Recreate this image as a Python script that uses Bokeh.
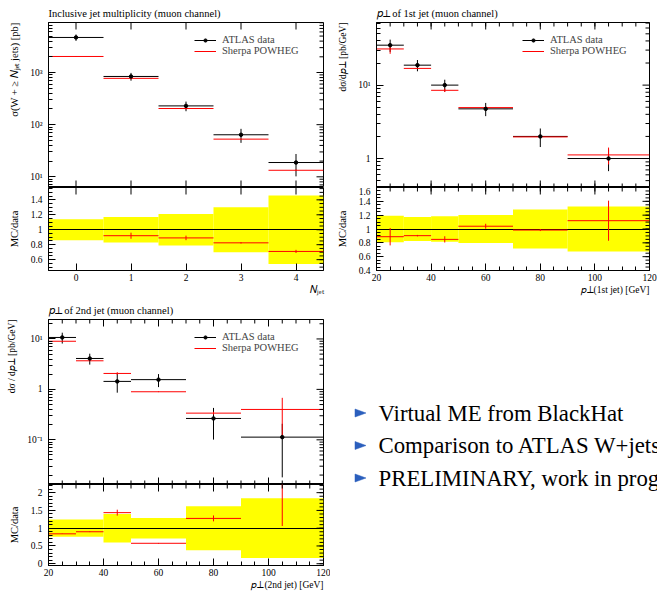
from math import floor, ceil, log10, pi
from bokeh.plotting import figure
from bokeh.layouts import row, column
from bokeh.models import (ColumnDataSource, Range1d, LinearAxis, LogAxis, FixedTicker,
                          CustomJSTickFormatter, Title, Legend, LegendItem)
from bokeh.core.properties import value
from bokeh.embed import file_html
from bokeh.resources import INLINE

SERIF = "Liberation Serif"
RED = "#ff0000"
YELLOW = "#ffff00"
BLUE = "#2b5fbd"

# ---- Inclusive jet multiplicity (muon channel)
njet_edges = [-0.5, 0.5, 1.5, 2.5, 3.5, 4.5]
njet_data = [4700.0, 840.0, 229.0, 64.0, 18.8]
njet_data_err = [660.0, 143.0, 48.0, 19.2, 8.6]
njet_mc = [2030.0, 773.0, 204.0, 52.8, 13.35]
njet_mc_err = [30.0, 34.0, 7.0, 0.6, 0.4]

# ---- pT of 1st jet (muon channel)
pt1_edges = [20, 30, 40, 50, 70, 90, 120]
pt1_data = [35.0, 18.7, 10.0, 4.75, 2.0, 1.0]
pt1_data_err = [6.65, 3.27, 1.85, 0.97, 0.566, 0.327]
pt1_mc = [31.1, 16.9, 8.5, 4.94, 1.97, 1.12]
pt1_mc_err = [4.4, 0.2, 0.45, 0.17, 0.03, 0.29]

# ---- pT of 2nd jet (muon channel)
pt2_edges = [20, 30, 40, 50, 70, 90, 120]
pt2_data = [10.7, 4.1, 1.44, 1.56, 0.265, 0.113]
pt2_data_err = [2.6, 1.0, 0.58, 0.45, 0.164, 0.095]
pt2_mc = [9.0, 3.69, 2.07, 0.897, 0.338, 0.40]
pt2_mc_err = [0.05, 0.04, 0.12, 0.015, 0.022, 0.28]

bullets = ["Virtual ME from BlackHat",
           "Comparison to ATLAS W+jets",
           "PRELIMINARY, work in prog"]

NUM_FMT = CustomJSTickFormatter(code="return String(parseFloat(tick.toFixed(3)));")
POW_FMT = CustomJSTickFormatter(code="""
const e = Math.round(Math.log10(tick));
if (e === 0) { return "1"; }
const sup = {"-": "\u207b", "0": "\u2070", "1": "\u00b9", "2": "\u00b2", "3": "\u00b3",
             "4": "\u2074", "5": "\u2075", "6": "\u2076", "7": "\u2077", "8": "\u2078", "9": "\u2079"};
return "10" + String(e).split("").map(c => sup[c]).join("");
""")


def log_ticks(lo, hi):
    ks = range(floor(log10(lo)), ceil(log10(hi)) + 1)
    majors = [10.0 ** k for k in ks if lo <= 10.0 ** k <= hi]
    minors = [m * 10.0 ** k for k in ks for m in range(2, 10) if lo <= m * 10.0 ** k <= hi]
    return majors, minors


def lin_ticks(lo, hi, major, minor):
    majors = [round(k * major, 6) for k in range(ceil(lo / major - 1e-9), floor(hi / major + 1e-9) + 1)]
    minors = [round(k * minor, 6) for k in range(ceil(lo / minor - 1e-9), floor(hi / minor + 1e-9) + 1)]
    return majors, minors


def add_axis(p, side, ticks, log=False, formatter=None, standoff=4):
    majors, minors = ticks
    ax = (LogAxis if log else LinearAxis)(ticker=FixedTicker(ticks=majors, minor_ticks=minors))
    ax.formatter = formatter
    ax.axis_line_color = "black"
    ax.major_tick_in, ax.major_tick_out = 7, 0
    ax.minor_tick_in, ax.minor_tick_out = 4, 0
    ax.major_tick_line_color = "black"
    ax.minor_tick_line_color = "black"
    ax.axis_label_standoff = 0
    ax.major_label_text_font = SERIF
    ax.major_label_text_font_size = "9.5px"
    ax.major_label_text_color = "black"
    ax.major_label_standoff = standoff
    p.add_layout(ax, side)


def edge_ticks(p, ticks, side):
    """Inward tick marks on a frame edge without labels (half of each dash is clipped away)."""
    majors, minors = ticks
    xr, yr = p.x_range, p.y_range
    for pos, size in ((minors, 8), (majors, 14)):
        n = len(pos)
        if side in ("left", "right"):
            x = xr.start if side == "left" else xr.end
            p.scatter(x=[x] * n, y=pos, marker="dash", size=size, line_color="black", line_width=1)
        else:
            y = yr.start if side == "bottom" else yr.end
            p.scatter(x=pos, y=[y] * n, marker="dash", angle=pi / 2, size=size,
                      line_color="black", line_width=1)


def title(p, side, s, size="10.5px", align="left", valign="bottom", standoff=8, offset=0):
    p.add_layout(Title(text=s, align=align, vertical_align=valign, standoff=standoff, offset=offset,
                       text_font=SERIF, text_font_size=size, text_font_style="normal",
                       text_color="black"), side)


def base_fig(width, height, x_range, y_range, left, right, top, bottom, log=False):
    p = figure(width=width, height=height, x_range=x_range, y_range=y_range, title=None,
               y_axis_type="log" if log else "linear",
               x_axis_location=None, y_axis_location=None,
               output_backend="svg", toolbar_location=None,
               min_border_left=left, min_border_right=right,
               min_border_top=top, min_border_bottom=bottom)
    p.xgrid.visible = False
    p.ygrid.visible = False
    p.outline_line_color = "black"
    p.background_fill_color = "white"
    p.border_fill_color = "white"
    return p


def panel(edges, data, data_err, mc, mc_err, x_rng, y_rng, r_rng, x_ticks, r_ticks,
          left, right, top, r_height, r_bottom, main_title, y_label, x_label, y_label_size):
    lo, hi = edges[:-1], edges[1:]
    mid = [(a + b) / 2 for a, b in zip(lo, hi)]
    src = ColumnDataSource(dict(
        lo=lo, hi=hi, mid=mid, data=data, mc=mc,
        d_lo=[v - e for v, e in zip(data, data_err)], d_hi=[v + e for v, e in zip(data, data_err)],
        m_lo=[v - e for v, e in zip(mc, mc_err)], m_hi=[v + e for v, e in zip(mc, mc_err)],
        ratio=[m / d for m, d in zip(mc, data)],
        r_lo=[(m - e) / d for m, e, d in zip(mc, mc_err, data)],
        r_hi=[(m + e) / d for m, e, d in zip(mc, mc_err, data)],
        b_lo=[1 - e / d for e, d in zip(data_err, data)],
        b_hi=[1 + e / d for e, d in zip(data_err, data)],
    ))
    width = left + 275 + right

    # main distribution
    p = base_fig(width, top + 165, Range1d(*x_rng), Range1d(*y_rng), left, right, top, 0, log=True)
    y_ticks = log_ticks(*y_rng)
    add_axis(p, "left", y_ticks, log=True, formatter=POW_FMT, standoff=6)
    title(p, "above", main_title, align="left", valign="bottom", standoff=7)
    title(p, "left", y_label, size=y_label_size, align="right", valign="top", standoff=12)
    r_dh = p.segment(x0="lo", x1="hi", y0="data", y1="data", source=src, line_color="black", line_width=1)
    p.segment(x0="mid", x1="mid", y0="d_lo", y1="d_hi", source=src, line_color="black", line_width=1)
    r_mh = p.segment(x0="lo", x1="hi", y0="mc", y1="mc", source=src, line_color=RED, line_width=1)
    p.segment(x0="mid", x1="mid", y0="m_lo", y1="m_hi", source=src, line_color=RED, line_width=1)
    r_dp = p.scatter(x="mid", y="data", source=src, size=3.5, marker="circle", color="black")
    edge_ticks(p, y_ticks, "right")
    edge_ticks(p, x_ticks, "top")
    edge_ticks(p, x_ticks, "bottom")
    legend = Legend(items=[LegendItem(label="ATLAS data", renderers=[r_dh, r_dp]),
                           LegendItem(label="Sherpa POWHEG", renderers=[r_mh])],
                    location=(146, 131), glyph_width=22, glyph_height=8, label_height=11,
                    label_standoff=6, spacing=0, padding=0, margin=0,
                    label_text_font=SERIF, label_text_font_size="10.5px",
                    border_line_color=None, background_fill_alpha=0)
    p.add_layout(legend)

    # MC / data ratio
    q = base_fig(width, r_height + r_bottom, Range1d(*x_rng), Range1d(*r_rng), left, right, 0, r_bottom)
    add_axis(q, "left", r_ticks, formatter=NUM_FMT, standoff=6)
    add_axis(q, "below", x_ticks, formatter=NUM_FMT, standoff=3)
    title(q, "left", "MC/data", align="center", valign="top", standoff=12)
    title(q, "below", x_label, size="9.5px", align="right", valign="middle", standoff=0)
    q.quad(left="lo", right="hi", bottom="b_lo", top="b_hi", source=src,
           fill_color=YELLOW, line_color=None)
    q.hspan(y=[1.0], line_color="black", line_width=1)
    q.segment(x0="lo", x1="hi", y0="ratio", y1="ratio", source=src, line_color=RED, line_width=1)
    q.segment(x0="mid", x1="mid", y0="r_lo", y1="r_hi", source=src, line_color=RED, line_width=1)
    edge_ticks(q, r_ticks, "right")
    edge_ticks(q, x_ticks, "top")
    return p, q


pt_ticks = lin_ticks(20, 120, 20, 5)
P = "\U0001d45d"          # italic p
N = "\U0001d441"          # italic N
PERP = "\u22a5"

# Panel 1: jet multiplicity
p1, q1 = panel(njet_edges, njet_data, njet_data_err, njet_mc, njet_mc_err,
               (-0.5, 4.5), (6.24, 9100.0), (0.455, 1.565), ([0, 1, 2, 3, 4], []),
               lin_ticks(0.455, 1.565, 0.2, 0.05), 48, 7, 22, 83, 28,
               "Inclusive jet multiplicity (muon channel)",
               "\u03c3(W + \u2265 " + N + "\u2c7c\u2091\u209c jets) [pb]",
               N + "\u2c7c\u2091\u209c", "10.5px")

# Panel 2: leading jet pT
p2, q2 = panel(pt1_edges, pt1_data, pt1_data_err, pt1_mc, pt1_mc_err,
               (20, 120), (0.403, 71.3), (0.4, 1.6), pt_ticks,
               lin_ticks(0.4, 1.6, 0.2, 0.05), 44, 8, 22, 83, 28,
               P + PERP + " of 1st jet (muon channel)",
               "d\u03c3/d" + P + PERP + " [pb/GeV]",
               P + PERP + "(1st jet) [GeV]", "9.5px")

# Panel 3: second jet pT
p3, q3 = panel(pt2_edges, pt2_data, pt2_data_err, pt2_mc, pt2_mc_err,
               (20, 120), (0.013, 24.3), (-0.05, 2.23), pt_ticks,
               lin_ticks(-0.05, 2.23, 0.5, 0.1), 48, 7, 21, 81, 28,
               P + PERP + " of 2nd jet (muon channel)",
               "d\u03c3 / d" + P + PERP + " [pb/GeV]",
               P + PERP + "(2nd jet) [GeV]", "9.5px")

# Slide bullet points
t = figure(width=327, height=295, x_range=Range1d(0, 327), y_range=Range1d(295, 0),
           x_axis_location=None, y_axis_location=None, output_backend="svg",
           toolbar_location=None, min_border=0, title=None)
t.outline_line_color = None
t.xgrid.visible = False
t.ygrid.visible = False
line_y = [114.5 + 32.5 * i for i in range(len(bullets))]
t.text(x=[48] * len(bullets), y=line_y, text=bullets, text_font=value(SERIF),
       text_font_size="22.8px", text_baseline="middle", text_color="black")
t.patches(xs=[[24.5, 35.5, 24.5] for _ in line_y],
          ys=[[y - 4, y, y + 4] for y in line_y],
          fill_color=BLUE, line_color=BLUE, line_width=0.5)

layout = column(row(column(p1, q1), column(p2, q2)),
                row(column(p3, q3), t))
open("out.html", "w").write(file_html(layout, INLINE))
